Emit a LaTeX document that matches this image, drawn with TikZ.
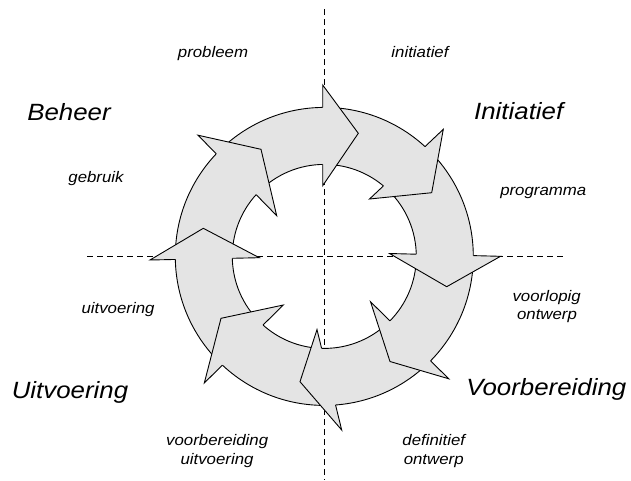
\documentclass[tikz,border=0pt]{standalone}
\usepackage{fontspec}
\newfontfamily\labelfont[FakeStretch=1.1]{Liberation Sans}
\usetikzlibrary{intersections}
\definecolor{ringgray}{RGB}{228,228,228}

\begin{document}
\begin{tikzpicture}[x=1pt,y=-1pt,
  guide/.style={line width=1pt,dash pattern=on 6pt off 4pt},
  outline/.style={line width=0.9pt,line join=miter},
  phase/.style={font=\labelfont\itshape\fontsize{23.5}{28}\selectfont,anchor=base,inner sep=0pt},
  milestone/.style={font=\labelfont\itshape\fontsize{15.3}{18}\selectfont,anchor=base,inner sep=0pt}]

\useasboundingbox (0,0) rectangle (631,480);

% quadrant guides
\coordinate (vtop) at (324.6,9);
\coordinate (vbot) at (324.6,480);
\coordinate (hl) at (87,256);
\coordinate (hr) at (563,256);
\draw[guide] (vtop) -- (vbot);
\draw[guide] (hl) -- (hr);

% the ring
\coordinate (C) at (324.3,256.4);
\fill[ringgray,even odd rule] (C) circle (149pt) (C) circle (92pt);
\draw[outline,name path=outerring] (C) circle (149pt);
\draw[outline,name path=innerring] (C) circle (92pt);

% arrow heads: inner barb / tip / outer barb
\foreach \ix/\iy/\tx/\ty/\ox/\oy [count=\k] in {
    322.7/185.7/358.3/133.3/322.7/85,
    369.5/199/431.7/192.7/443.3/129.3,
    389.5/253.5/446.7/286.7/500.5/256.3,
    370.5/301.7/390/361.5/448.8/378.8,
    317/329.6/300/381.7/341.7/430,
    283.3/305/221/318.3/204.3/383,
    259.3/257.7/203.3/228.3/150/260,
    276.7/215.7/261/149.3/198/135.2}{
  \coordinate (bi\k) at (\ix,\iy);
  \coordinate (tip\k) at (\tx,\ty);
  \coordinate (bo\k) at (\ox,\oy);
  \path[name path=headbase] (bi\k) -- (bo\k);
  \path[name intersections={of=headbase and innerring,by=ci}];
  \path[name intersections={of=headbase and outerring,by=co}];
  \fill[ringgray] (bi\k) -- (tip\k) -- (bo\k) -- cycle;
  \draw[outline] (ci) -- (bi\k) -- (tip\k) -- (bo\k) -- (co);
}

% phase names
\node[phase] (beheer) at (69,120) {Beheer};
\node[phase] (initiatief) at (518.7,119.3) {Initiatief};
\node[phase] (uitvoering) at (70,398.3) {Uitvoering};
\node[phase] (voorbereiding) at (546.3,395) {Voorbereiding};

% products between phases
\node[milestone] (probleem) at (213,57.7) {probleem};
\node[milestone] (initiatiefdoc) at (420,57.7) {initiatief};
\node[milestone] (gebruik) at (96,182.7) {gebruik};
\node[milestone] (programma) at (543.3,195.7) {programma};
\node[milestone] (uitv) at (118,313.3) {uitvoering};
\node[milestone] (vo1) at (546.7,301) {voorlopig};
\node[milestone] (vo2) at (547,319.3) {ontwerp};
\node[milestone] (vu1) at (217.2,445.7) {voorbereiding};
\node[milestone] (vu2) at (217,464.3) {uitvoering};
\node[milestone] (do1) at (433.8,445) {definitief};
\node[milestone] (do2) at (433.7,464) {ontwerp};
\end{tikzpicture}
\end{document}
